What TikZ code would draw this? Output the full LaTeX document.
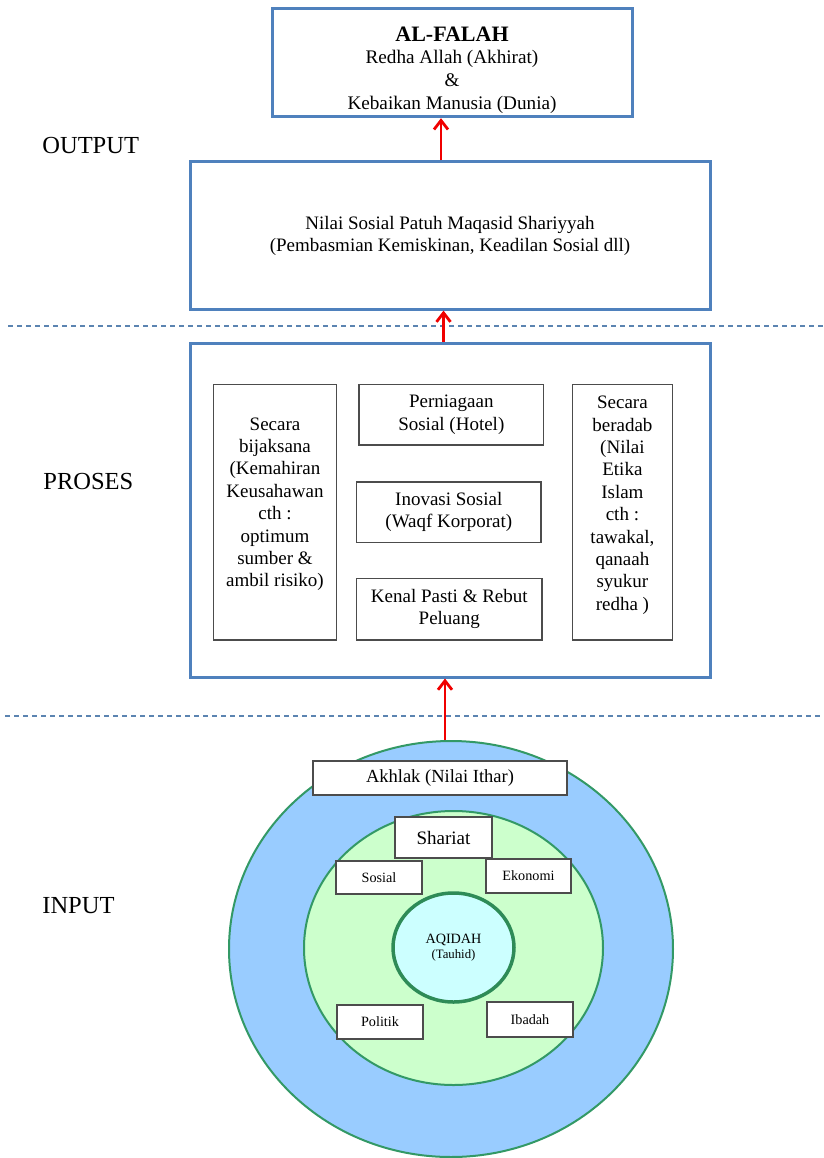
\documentclass[tikz,border=0pt]{standalone}
\usepackage{fontspec}
\setmainfont{Liberation Serif}
\usetikzlibrary{arrows.meta,shapes.geometric}
\definecolor{boxblue}{HTML}{4F81BD}
\definecolor{sepblue}{HTML}{5B84B1}
\definecolor{arrowred}{HTML}{F00000}
\definecolor{outerfill}{HTML}{99CCFF}
\definecolor{greenfill}{HTML}{CCFFCC}
\definecolor{aqfill}{HTML}{CCFFFF}
\definecolor{ringgreen}{HTML}{339966}
\definecolor{aqgreen}{HTML}{2E8B57}
\tikzset{
  bluebox/.style={draw=boxblue, line width=1.5pt, fill=white, inner sep=0pt, align=center},
  graybox/.style={draw=black!70, line width=0.6pt, fill=white, inner sep=0pt, align=center},
  plaintext/.style={inner sep=0pt, align=center},
  lbl/.style={font=\fontsize{12.25}{14}\selectfont, anchor=west, inner sep=0pt},
  redarrow/.style={draw=arrowred, line width=1.4pt, -{Straight Barb[length=4.5pt,width=7pt,line width=1.4pt]}},
  sepline/.style={draw=sepblue, line width=0.7pt, dash pattern=on 2.5pt off 2pt},
  ring/.style={ellipse, inner sep=0pt, draw=ringgreen, line width=1pt},
  prosfont/.style={font=\fontsize{9.5}{11.2}\selectfont},
  smallfont/.style={font=\fontsize{7.1}{8.5}\selectfont},
}
\begin{document}
\begin{tikzpicture}[x=0.5pt, y=-0.5pt]
\useasboundingbox (0,0) rectangle (824,1158);

% separators
\coordinate (d1l) at (8,326);
\coordinate (d1r) at (824,326);
\coordinate (d2l) at (5,716);
\coordinate (d2r) at (824,716);
\draw[sepline] (d1l) -- (d1r);
\draw[sepline] (d2l) -- (d2r);

% side labels
\node[lbl] (lout) at (42,146) {OUTPUT};
\node[lbl] (lpro) at (43,482) {PROSES};
\node[lbl] (lin) at (42,906) {INPUT};

% output boxes
\node[bluebox, minimum width=180pt, minimum height=54.2pt] (b1) at (452,62.5) {};
\node[plaintext, font=\fontsize{9.6}{11.4}\selectfont] (b1t) at (452,70)
  {{\fontsize{11}{11.4}\selectfont\bfseries AL-FALAH}\\Redha Allah (Akhirat)\\\&\\Kebaikan Manusia (Dunia)};
\node[bluebox, minimum width=260pt, minimum height=73.6pt, font=\fontsize{9.5}{11}\selectfont] (b2) at (450,235.5)
  {Nilai Sosial Patuh Maqasid Shariyyah\\(Pembasmian Kemiskinan, Keadilan Sosial dll)};

% process box
\node[bluebox, minimum width=260pt, minimum height=167pt] (b3) at (450,510) {};
\node[graybox, minimum width=61.75pt, minimum height=127.85pt] (pl) at (275,512.2) {};
\node[plaintext, prosfont] (plt) at (275,504.2)
  {Secara\\bijaksana\\(Kemahiran\\Keusahawan\\cth :\\optimum\\sumber \&\\ambil risiko)};
\node[graybox, prosfont, minimum width=92.3pt, minimum height=30.35pt] (pm1) at (451.3,414.6)
  {Perniagaan\\Sosial (Hotel)};
\node[graybox, prosfont, minimum width=92.2pt, minimum height=30.15pt] (pm2) at (448.8,512.2)
  {Inovasi Sosial\\(Waqf Korporat)};
\node[graybox, prosfont, minimum width=92.7pt, minimum height=30.85pt] (pm3) at (449.3,609.2)
  {Kenal Pasti \& Rebut\\Peluang};
\node[graybox, minimum width=50pt, minimum height=127.85pt] (pr) at (622.4,512.2) {};
\node[plaintext, prosfont] (prt) at (622.4,505.2)
  {Secara\\beradab\\(Nilai\\Etika\\Islam\\cth :\\tawakal,\\qanaah\\syukur\\redha )};

% input circles
\node[ring, fill=outerfill, minimum width=222pt, minimum height=208pt] (outer) at (451,949) {};
\node[ring, fill=greenfill, minimum width=149.5pt, minimum height=137pt] (green) at (453.5,948) {};
\node[ring, draw=aqgreen, line width=1.75pt, fill=aqfill, minimum width=60.5pt, minimum height=54.5pt, align=center, smallfont] (aq) at (453.5,947.5)
  {AQIDAH\\[-1pt]{\fontsize{6.4}{8}\selectfont (Tauhid)}};

\node[graybox, minimum width=127pt, minimum height=17pt, font=\fontsize{9.25}{11}\selectfont] (akh) at (440,778) {Akhlak (Nilai Ithar)};
\node[graybox, minimum width=48.5pt, minimum height=20.5pt, font=\fontsize{9.5}{11}\selectfont] (shar) at (443.5,837.5) {Shariat};
\node[graybox, smallfont, minimum width=43pt, minimum height=16.5pt] (sos) at (379,877.5) {Sosial};
\node[graybox, smallfont, minimum width=42.5pt, minimum height=17pt] (eko) at (528.5,876) {Ekonomi};
\node[graybox, smallfont, minimum width=43pt, minimum height=17pt] (pol) at (380,1022) {Politik};
\node[graybox, smallfont, minimum width=43pt, minimum height=17.5pt] (iba) at (530,1019.5) {Ibadah};

% arrows
\coordinate (ax1) at (441,0);
\coordinate (ax2) at (443.5,0);
\coordinate (ax3) at (445,0);
\draw[redarrow] (b2.north -| ax1) -- (b1.south -| ax1);
\draw[redarrow] (b3.north -| ax2) -- (b2.south -| ax2);
\draw[redarrow] (outer.north -| ax3) -- (b3.south -| ax3);
\end{tikzpicture}
\end{document}
